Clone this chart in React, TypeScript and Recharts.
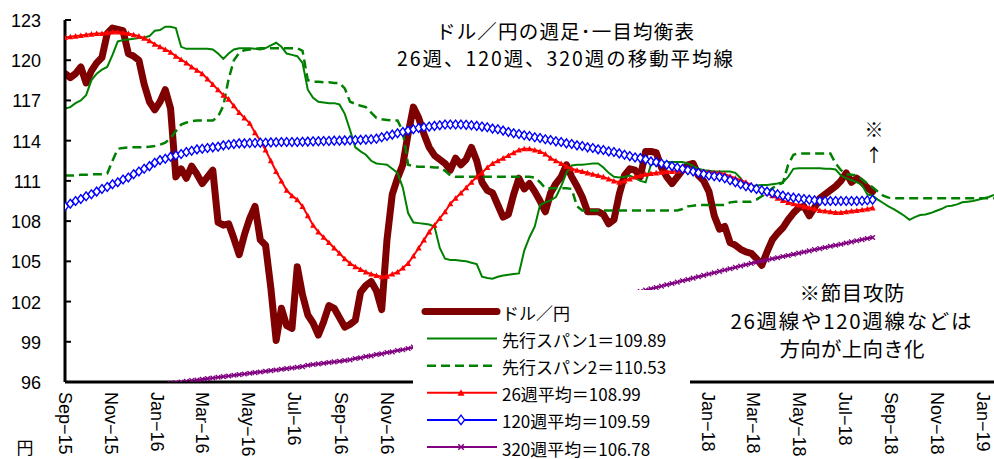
import React from 'react'
import { LineChart, Line, XAxis, YAxis, Legend } from 'recharts'

// weekly points, one every 7 days from the start of the axis (Sep 2015)
const price = [
  119.0, 118.7, 119.0, 119.5, 118.3, 119.2, 119.8, 120.2, 122.0, 122.4,
  122.3, 122.2, 120.5, 120.3, 120.0, 118.2, 116.9, 116.3, 116.9, 117.8,
  116.4, 111.3, 111.9, 111.2, 112.1, 111.5, 110.8, 111.3, 111.8, 107.9,
  107.7, 107.8, 106.7, 105.5, 107.0, 108.2, 109.1, 106.6, 106.2, 103.0,
  99.1, 101.5, 100.2, 100.0, 104.6, 102.5, 101.0, 100.4, 99.5, 100.5,
  101.7, 101.5, 100.8, 100.1, 100.3, 100.6, 102.7, 103.2, 103.5, 102.8,
  101.4, 106.6, 110.0, 111.2, 112.2, 114.5, 116.5, 115.7, 114.5, 113.5,
  112.9, 112.6, 112.3, 111.8, 112.7, 112.2, 112.6, 113.5, 112.5, 110.9,
  110.3, 110.1, 109.2, 108.3, 108.5, 110.0, 111.2, 110.4, 110.8, 110.2,
  109.5, 108.7, 110.1, 110.8, 111.3, 112.2, 111.3, 110.6, 109.8, 108.7,
  108.7, 108.7, 108.5, 107.8, 108.1, 110.0, 111.4, 111.9, 111.8, 111.3,
  113.2, 113.2, 113.1, 112.0, 111.3, 110.8, 111.3, 111.8, 112.2, 112.3,
  111.4, 111.0, 110.2, 108.4, 107.4, 107.6, 106.4, 106.2, 105.9, 105.7,
  105.6, 105.2, 104.7, 105.7, 106.6, 107.1, 107.5, 108.1, 108.6, 109.0,
  109.1, 108.4, 109.0, 109.7, 110.0, 110.3, 110.6, 111.0, 111.6, 110.9,
  111.2, 110.9, 110.5, 110.2,
]

const span1 = [
  116.4, 116.5, 116.8, 117.0, 117.4, 118.5, 119.0, 119.3, 119.5, 120.4,
  121.4, 121.5, 121.55, 121.6, 121.65, 121.7, 121.8, 122.2, 122.25, 122.5,
  122.5, 122.4, 121.0, 120.85, 120.85, 120.85, 120.85, 120.85, 120.8, 120.5,
  120.1, 120.5, 120.8, 120.9, 120.9, 120.9, 120.85, 120.8, 120.9, 121.1,
  121.3, 121.0, 120.5, 120.4, 120.3, 119.8, 117.8, 117.2, 116.9, 116.85,
  116.8, 116.8, 116.7, 116.0, 114.8, 113.5, 113.2, 112.95, 112.5, 112.3,
  112.25, 112.2, 111.9, 111.6, 110.5, 108.6, 107.9, 107.85, 107.8, 107.75,
  107.6, 106.0, 105.2, 105.1, 105.1, 105.05, 105.0, 104.9, 104.8, 103.85,
  103.75, 103.7, 103.85, 103.95, 104.0, 104.05, 104.1, 105.8, 106.8, 107.6,
  109.2, 109.4, 109.55, 109.8, 110.6, 111.6, 112.15, 112.2, 112.2, 112.25,
  112.3, 112.3, 112.0, 111.6, 111.3, 111.25, 111.3, 111.4, 111.2, 111.0,
  110.9, 112.2, 112.3, 112.35, 112.4, 112.4, 112.4, 112.4, 112.3, 112.1,
  111.9, 111.8, 111.75, 111.7, 111.7, 111.7, 111.7, 111.6, 111.2, 110.65,
  110.6, 110.65, 110.7, 110.7, 110.75, 110.8, 110.9, 111.3, 111.9, 111.95,
  111.95, 111.95, 111.95, 111.95, 111.9, 111.9, 111.85, 111.4, 111.2, 111.05,
  110.9, 110.7, 110.0, 109.89, 109.6, 109.35, 109.1, 108.9, 108.65, 108.4,
  108.1, 108.3, 108.45, 108.5, 108.6, 108.75, 108.9, 109.1, 109.15, 109.25,
  109.4, 109.45, 109.5, 109.6, 109.7, 109.8, 109.95,
]

const span2 = [
  111.4, 111.4, 111.4, 111.45, 111.45, 111.5, 111.5, 111.5, 111.55, 112.5,
  113.4, 113.45, 113.5, 113.5, 113.5, 113.5, 113.55, 113.6, 113.7, 113.85,
  114.2, 114.7, 115.2, 115.35, 115.45, 115.5, 115.5, 115.5, 115.5, 115.8,
  116.6, 118.6, 120.0, 120.55, 120.75, 120.8, 120.85, 120.9, 120.9, 120.9,
  120.9, 120.9, 120.9, 120.9, 120.9, 120.7, 118.5, 118.4, 118.4, 118.35,
  118.35, 118.3, 118.3, 117.9, 116.9, 116.75, 116.6, 116.5, 116.1, 115.7,
  115.6, 115.55, 115.5, 115.5, 114.7, 112.2, 112.1, 112.05, 112.05, 112.05,
  112.0, 112.0, 111.75, 111.4, 111.3, 111.3, 111.3, 111.3, 111.3, 111.3,
  111.3, 111.3, 111.3, 111.3, 111.3, 111.3, 111.3, 111.3, 111.3, 111.25,
  110.9, 110.45, 110.45, 110.45, 110.45, 110.45, 110.4, 109.1, 108.8, 108.8,
  108.8, 108.8, 108.8, 108.8, 108.8, 108.8, 108.8, 108.8, 108.8, 108.8,
  108.8, 108.8, 108.8, 108.8, 108.8, 108.8, 108.8, 108.9, 109.1, 109.15,
  109.2, 109.2, 109.2, 109.2, 109.2, 109.2, 109.4, 109.45, 109.45, 109.45,
  109.45, 109.6, 109.85, 110.1, 110.45, 110.7, 110.85, 112.2, 112.95, 113.05,
  113.05, 113.05, 113.05, 113.05, 113.05, 113.05, 112.3, 111.8, 111.5, 111.45,
  111.4, 111.1, 110.8, 110.53, 110.2, 109.9, 109.75, 109.7, 109.7, 109.7,
  109.7, 109.7, 109.7, 109.7, 109.7, 109.7, 109.7, 109.7, 109.7, 109.7,
  109.7, 109.7, 109.7, 109.7, 109.7, 109.7, 109.7,
]

const ma26 = [
  121.7, 121.75, 121.8, 121.85, 121.9, 121.95, 122.0, 122.0, 122.05, 122.1,
  122.1, 122.05, 122.0, 121.9, 121.8, 121.65, 121.45, 121.2, 121.0, 120.8,
  120.6, 120.3, 120.05, 119.8, 119.5, 119.25, 119.0, 118.6, 118.2, 117.8,
  117.4, 117.1, 116.6, 116.1, 115.7, 115.3, 114.6, 114.0, 113.3, 112.5,
  111.7, 111.0, 110.3, 109.9, 109.6, 109.1, 108.4, 107.7, 107.2, 106.8,
  106.4, 106.0, 105.6, 105.2, 104.85, 104.6, 104.4, 104.2, 104.05, 103.95,
  103.85, 103.9, 104.05, 104.2, 104.5, 104.85, 105.4, 106.0, 106.6, 107.2,
  107.7, 108.2, 108.7, 109.3, 109.7, 110.1, 110.5, 110.9, 111.3, 111.6,
  112.0, 112.3, 112.5, 112.7, 112.9, 113.1, 113.3, 113.4, 113.4, 113.3,
  113.2, 113.0, 112.7, 112.5, 112.3, 112.1, 111.9, 111.8, 111.7, 111.6,
  111.5, 111.4, 111.3, 111.15, 111.0, 110.9, 111.0, 111.15, 111.3, 111.4,
  111.5, 111.55, 111.6, 111.65, 111.7, 111.7, 111.75, 111.8, 111.8, 111.8,
  111.75, 111.7, 111.65, 111.6, 111.6, 111.5, 111.35, 111.2, 111.05, 110.9,
  110.7, 110.5, 110.3, 110.1, 109.9, 109.7, 109.55, 109.4, 109.3, 109.2,
  109.1, 109.0, 108.9, 108.8, 108.75, 108.7, 108.65, 108.65, 108.7, 108.75,
  108.8, 108.85, 108.9, 108.99,
]

const ma120 = [
  109.1, 109.3, 109.5, 109.65, 109.85, 110.0, 110.2, 110.4, 110.55, 110.75,
  110.9, 111.1, 111.25, 111.5, 111.7, 111.9, 112.1, 112.35, 112.55, 112.65,
  112.8, 112.9, 113.0, 113.15, 113.25, 113.35, 113.4, 113.45, 113.5, 113.55,
  113.65, 113.7, 113.75, 113.8, 113.8, 113.82, 113.83, 113.85, 113.85, 113.87,
  113.88, 113.9, 113.9, 113.9, 113.9, 113.92, 113.93, 113.95, 113.96, 113.97,
  113.98, 114.0, 114.0, 114.02, 114.03, 114.05, 114.06, 114.08, 114.1, 114.15,
  114.25, 114.35, 114.45, 114.55, 114.65, 114.75, 114.85, 114.95, 115.0, 115.05,
  115.1, 115.15, 115.2, 115.2, 115.2, 115.2, 115.18, 115.15, 115.1, 115.05,
  115.0, 114.9, 114.85, 114.75, 114.65, 114.55, 114.5, 114.4, 114.35, 114.25,
  114.2, 114.1, 114.05, 113.95, 113.9, 113.8, 113.75, 113.65, 113.6, 113.5,
  113.45, 113.35, 113.3, 113.2, 113.15, 113.05, 112.95, 112.85, 112.75, 112.7,
  112.6, 112.45, 112.4, 112.3, 112.2, 112.1, 112.0, 111.9, 111.8, 111.7,
  111.6, 111.5, 111.4, 111.35, 111.3, 111.2, 111.05, 110.9, 110.75, 110.6,
  110.5, 110.4, 110.3, 110.2, 110.1, 110.0, 109.9, 109.8, 109.75, 109.7,
  109.65, 109.6, 109.55, 109.5, 109.5, 109.5, 109.5, 109.5, 109.5, 109.5,
  109.5, 109.52, 109.55, 109.59,
]

// 320-week line only enters the plotted range from week 20
const MA320_START = 20
const ma320 = [
  95.9, 95.95, 96.0, 96.05, 96.1, 96.15, 96.2, 96.25, 96.3, 96.35,
  96.4, 96.45, 96.5, 96.55, 96.6, 96.65, 96.7, 96.75, 96.8, 96.85,
  96.9, 96.95, 97.0, 97.05, 97.1, 97.15, 97.25, 97.3, 97.35, 97.4,
  97.45, 97.5, 97.55, 97.6, 97.65, 97.75, 97.8, 97.9, 97.95, 98.05,
  98.1, 98.2, 98.25, 98.35, 98.4, 98.5, 98.6, 98.7, 98.8, 98.9,
  98.95, 99.05, 99.15, 99.25, 99.35, 99.45, 99.55, 99.65, 99.75, 99.85,
  99.95, 100.05, 100.15, 100.25, 100.35, 100.45, 100.5, 100.6, 100.7, 100.8,
  100.9, 101.0, 101.1, 101.2, 101.3, 101.4, 101.5, 101.6, 101.7, 101.8,
  101.9, 101.95, 102.05, 102.15, 102.25, 102.35, 102.45, 102.55, 102.65, 102.75,
  102.85, 102.95, 103.05, 103.15, 103.25, 103.35, 103.45, 103.55, 103.65, 103.75,
  103.85, 103.95, 104.05, 104.15, 104.25, 104.35, 104.45, 104.55, 104.65, 104.75,
  104.85, 104.93, 105.02, 105.1, 105.19, 105.27, 105.36, 105.44, 105.53, 105.61,
  105.7, 105.78, 105.87, 105.95, 106.03, 106.12, 106.2, 106.28, 106.37, 106.45,
  106.53, 106.62, 106.7, 106.78,
]

const seriesNames = [
  'ドル／円',
  '先行スパン1＝109.89',
  '先行スパン2＝110.53',
  '26週平均＝108.99',
  '120週平均＝109.59',
  '320週平均＝106.78',
]

const tickLabels = [
  'Sep-15', 'Nov-15', 'Jan-16', 'Mar-16', 'May-16', 'Jul-16', 'Sep-16',
  'Nov-16', 'Jan-17', 'Mar-17', 'May-17', 'Jul-17', 'Sep-17', 'Nov-17',
  'Jan-18', 'Mar-18', 'May-18', 'Jul-18', 'Sep-18', 'Nov-18', 'Jan-19',
]
const yTicks = [96, 99, 102, 105, 108, 111, 114, 117, 120, 123]

const MONTHS = ['Jan', 'Feb', 'Mar', 'Apr', 'May', 'Jun', 'Jul', 'Aug', 'Sep', 'Oct', 'Nov', 'Dec']
const ORIGIN = Date.UTC(2015, 8, 1)
const dayOf = (label: string) => {
  const [m, y] = label.split('-')
  return Math.round((Date.UTC(2000 + Number(y), MONTHS.indexOf(m), 1) - ORIGIN) / 86400000)
}
const tickDays = tickLabels.map(dayOf)
const X_END = 1232

const data = span1.map((s1, i) => ({
  t: i * 7,
  price: i < price.length ? price[i] : null,
  span1: s1,
  span2: span2[i],
  ma26: i < ma26.length ? ma26[i] : null,
  ma120: i < ma120.length ? ma120[i] : null,
  ma320: i >= MA320_START && i - MA320_START < ma320.length ? ma320[i - MA320_START] : null,
}))

const JP = '"Noto Sans CJK JP", "Noto Sans", sans-serif'
const LAT = '"Liberation Sans", Arial, sans-serif'

const C_PRICE = '#7F0000'
const C_GREEN = '#008000'
const C_RED = '#FF0000'
const C_BLUE = '#0000FF'
const C_PURPLE = '#800080'

const tri = (cx: number, cy: number, s: number) =>
  `${cx},${cy - s} ${cx + s},${cy + s * 0.85} ${cx - s},${cy + s * 0.85}`
const diamond = (cx: number, cy: number, w: number, h: number) =>
  `${cx},${cy - h} ${cx + w},${cy} ${cx},${cy + h} ${cx - w},${cy}`
const cross = (cx: number, cy: number, s: number) =>
  `M${cx - s},${cy - s}L${cx + s},${cy + s}M${cx - s},${cy + s}L${cx + s},${cy - s}`

const TriDot = (p: any) => {
  if (p.cx == null || p.cy == null) return <g key={`tr${p.index}`} />
  return <polygon key={`tr${p.index}`} points={tri(p.cx, p.cy, 3)} fill={C_RED} />
}
const DiamondDot = (p: any) => {
  if (p.cx == null || p.cy == null) return <g key={`dm${p.index}`} />
  return (
    <polygon key={`dm${p.index}`} points={diamond(p.cx, p.cy, 3.4, 4.4)}
      fill="#fff" stroke={C_BLUE} strokeWidth={1.4} />
  )
}
const CrossDot = (p: any) => {
  if (p.cx == null || p.cy == null) return <g key={`cr${p.index}`} />
  return <path key={`cr${p.index}`} d={cross(p.cx, p.cy, 2.3)} stroke={C_PURPLE} strokeWidth={1.4} />
}

const XTick = ({ x, y, payload }: any) => {
  const k = tickDays.indexOf(payload.value)
  const label = (tickLabels[k] || '').replace('-', '−')
  const ty = y + 10
  return (
    <text x={x} y={ty} transform={`rotate(90 ${x} ${ty})`} textAnchor="start"
      dominantBaseline="central" fontSize={18} fontFamily={LAT} fill="#000">
      {label}
    </text>
  )
}

const YTick = ({ x, y, payload }: any) => (
  <g>
    <line x1={x} x2={x + 6} y1={y} y2={y} stroke="#000" strokeWidth={2} />
    <text x={x - 24} y={y + 1} textAnchor="end" dominantBaseline="central"
      fontSize={18} fontFamily={LAT} fill="#000">
      {payload.value}
    </text>
  </g>
)

const LegendBox = () => {
  const rowY = (k: number) => 21.5 + k * 27.1
  const x1 = 12, x2 = 84, mid = 48
  return (
    <svg width={277} height={169} style={{ display: 'block' }}>
      {seriesNames.map((name, k) => {
        const y = rowY(k)
        let swatch: React.ReactNode = null
        if (k === 0) {
          swatch = <line x1={x1} x2={x2} y1={y} y2={y} stroke={C_PRICE} strokeWidth={7} strokeLinecap="round" />
        } else if (k === 1) {
          swatch = <line x1={x1 + 2} x2={x2} y1={y} y2={y} stroke={C_GREEN} strokeWidth={2} />
        } else if (k === 2) {
          swatch = <line x1={x1 + 2} x2={x2} y1={y} y2={y} stroke={C_GREEN} strokeWidth={2.5} strokeDasharray="9 5" />
        } else if (k === 3) {
          swatch = (
            <g>
              <line x1={x1 + 2} x2={x2} y1={y} y2={y} stroke={C_RED} strokeWidth={2} />
              <polygon points={tri(mid, y, 3.5)} fill={C_RED} />
            </g>
          )
        } else if (k === 4) {
          swatch = (
            <g>
              <line x1={x1 + 2} x2={x2} y1={y} y2={y} stroke={C_BLUE} strokeWidth={2} />
              <polygon points={diamond(mid, y, 3.6, 4.8)} fill="#fff" stroke={C_BLUE} strokeWidth={1.4} />
            </g>
          )
        } else {
          swatch = (
            <g>
              <line x1={x1 + 2} x2={x2} y1={y} y2={y} stroke={C_PURPLE} strokeWidth={2} />
              <path d={cross(mid, y, 2.8)} stroke={C_PURPLE} strokeWidth={1.5} />
            </g>
          )
        }
        return (
          <g key={name}>
            {swatch}
            <text x={89} y={y + 1} dominantBaseline="central" fontSize={17} fontFamily={JP} fill="#000">
              {name}
            </text>
          </g>
        )
      })}
    </svg>
  )
}

export default function App() {
  return (
    <div style={{ position: 'absolute', left: 0, top: 0, width: 994, height: 459, background: '#fff' }}>
      <LineChart width={994} height={459} data={data} margin={{ top: 20, right: 0, bottom: 0, left: 0 }}>
        <XAxis
          dataKey="t"
          type="number"
          domain={[0, X_END]}
          ticks={tickDays}
          interval={0}
          allowDataOverflow
          height={77}
          tickLine={false}
          tickSize={0}
          tickMargin={0}
          tick={(p: any) => <XTick {...p} />}
          axisLine={{ stroke: '#000', strokeWidth: 3 }}
        />
        <YAxis
          type="number"
          domain={[96, 123]}
          ticks={yTicks}
          interval={0}
          allowDataOverflow
          width={65}
          tickLine={false}
          tickSize={0}
          tickMargin={0}
          tick={(p: any) => <YTick {...p} />}
          axisLine={{ stroke: '#000', strokeWidth: 3 }}
        />
        <Line dataKey="price" name={seriesNames[0]} type="linear" stroke={C_PRICE} strokeWidth={7}
          strokeLinejoin="round" strokeLinecap="round" dot={false} activeDot={false} isAnimationActive={false} />
        <Line dataKey="span1" name={seriesNames[1]} type="linear" stroke={C_GREEN} strokeWidth={2}
          dot={false} activeDot={false} isAnimationActive={false} />
        <Line dataKey="span2" name={seriesNames[2]} type="linear" stroke={C_GREEN} strokeWidth={2.5}
          strokeDasharray="9 5" dot={false} activeDot={false} isAnimationActive={false} />
        <Line dataKey="ma26" name={seriesNames[3]} type="linear" stroke={C_RED} strokeWidth={2}
          dot={TriDot} activeDot={false} isAnimationActive={false} />
        <Line dataKey="ma120" name={seriesNames[4]} type="linear" stroke={C_BLUE} strokeWidth={1.5}
          dot={DiamondDot} activeDot={false} isAnimationActive={false} />
        <Line dataKey="ma320" name={seriesNames[5]} type="linear" stroke={C_PURPLE} strokeWidth={2}
          dot={CrossDot} activeDot={false} isAnimationActive={false} />
        <Legend
          content={() => <LegendBox />}
          layout="horizontal"
          verticalAlign="middle"
          align="center"
          wrapperStyle={{ left: 413, top: 290, width: 277, height: 169, background: '#fff' }}
        />
      </LineChart>
      <svg width={994} height={459} style={{ position: 'absolute', left: 0, top: 0, pointerEvents: 'none' }}>
        <g fontFamily={JP} fill="#000" textAnchor="middle" dominantBaseline="central">
          <text x={565} y={30} fontSize={19.5} textLength={258} lengthAdjust="spacing">ドル／円の週足･一目均衡表</text>
          <text x={565} y={57} fontSize={19.5} textLength={336} lengthAdjust="spacing">26週、120週、320週の移動平均線</text>
          <text x={874} y={128} fontSize={19}>※</text>
          <text x={874} y={154} fontSize={18}>↑</text>
          <text x={852} y={292} fontSize={20.5} textLength={105} lengthAdjust="spacing">※節目攻防</text>
          <text x={851} y={320} fontSize={20.5} textLength={241} lengthAdjust="spacing">26週線や120週線などは</text>
          <text x={852} y={348} fontSize={20.5} textLength={145} lengthAdjust="spacing">方向が上向き化</text>
          <text x={25} y={446} fontSize={17}>円</text>
        </g>
      </svg>
    </div>
  )
}
